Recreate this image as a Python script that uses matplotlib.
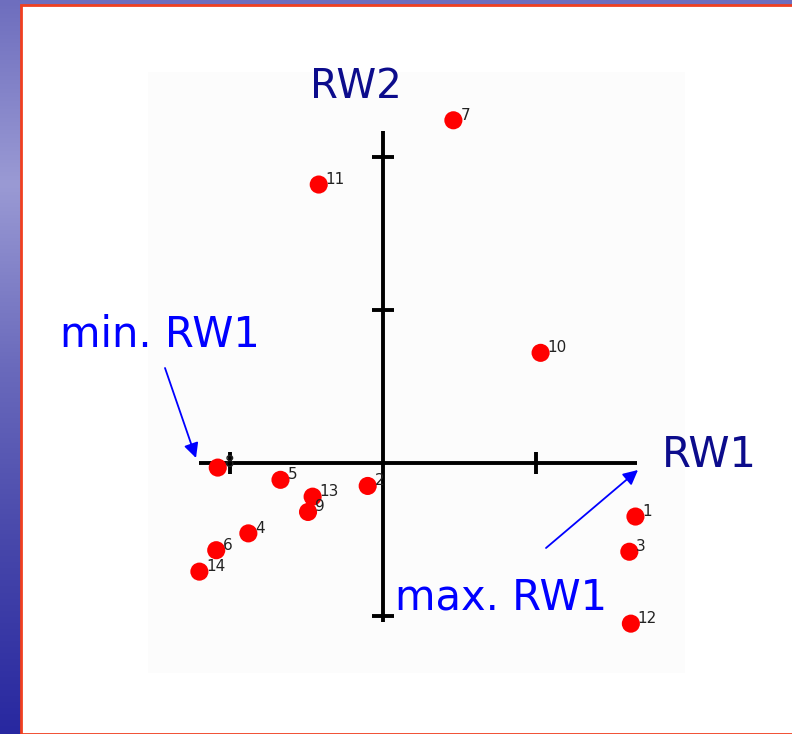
import numpy as np
import matplotlib.pyplot as plt
from matplotlib.patches import Rectangle

# case scores on the two relative-warp axes
labels = ['1', '2', '3', '4', '5', '6', '7', '8', '9', '10', '11', '12', '13', '14']
rw1 = [1.65, -0.10, 1.61, -0.88, -0.67, -1.09, 0.46, -1.08, -0.49, 1.03, -0.42, 1.62, -0.46, -1.20]
rw2 = [-0.35, -0.15, -0.58, -0.46, -0.11, -0.57, 2.24, -0.03, -0.32, 0.72, 1.82, -1.05, -0.22, -0.71]

x_ticks = [-1, 0, 1]
y_ticks = [-1, 1, 2]
x_axis_range = (-1.20, 1.66)
y_axis_range = (-1.04, 2.17)

W, H = 792, 734
fig = plt.figure(figsize=(W / 100, H / 100), dpi=100)


def fx(px):
    return px / W


def fy(py):
    return 1 - py / H


# slide background: blue gradient strip + white panel with red border
bg = fig.add_axes([0, 0, 1, 1])
grad = np.linspace(0, 1, 256).reshape(-1, 1)
cmap = plt.matplotlib.colors.LinearSegmentedColormap.from_list(
    'slide', ['#6e6ebe', '#9a9ad4', '#6a6abc', '#4646aa', '#2828a0'])
bg.imshow(grad, aspect='auto', cmap=cmap, extent=[0, 1, 0, 1], origin='upper')
bg.add_patch(Rectangle((fx(21), 0), 1, fy(5), facecolor='white',
                       edgecolor='#f04020', linewidth=2))
bg.set_xlim(0, 1)
bg.set_ylim(0, 1)
bg.axis('off')

# plot area (faint gray box), 153 px per unit, origin at (383, 463)
left, right, top, bottom = 148, 685, 72, 673
ox, oy, scale = 383, 463, 153
ax = fig.add_axes([fx(left), fy(bottom), (right - left) / W, (bottom - top) / H])
ax.set_facecolor('#fcfcfc')
ax.set_xlim((left - ox) / scale, (right - ox) / scale)
ax.set_ylim((oy - bottom) / scale, (oy - top) / scale)
for s in ax.spines.values():
    s.set_visible(False)
ax.set_xticks([])
ax.set_yticks([])

lw = 2.8
ax.plot(x_axis_range, [0, 0], color='black', lw=lw, solid_capstyle='butt', zorder=2)
ax.plot([0, 0], y_axis_range, color='black', lw=lw, solid_capstyle='butt', zorder=2)
tl = 0.07
for t in x_ticks:
    if t != 0:
        ax.plot([t, t], [-tl, tl], color='black', lw=lw, solid_capstyle='butt', zorder=2)
for t in y_ticks:
    ax.plot([-tl, tl], [t, t], color='black', lw=lw, solid_capstyle='butt', zorder=2)

ax.scatter(rw1, rw2, s=170, color='#ff0000', edgecolors='none', zorder=3)
for lab, x, y in zip(labels, rw1, rw2):
    ax.annotate(lab, (x, y), xytext=(5, 0.5), textcoords='offset points',
                fontsize=11, color='#222222', zorder=4)

# slide annotations
navy = '#0c0c8c'
blue = '#0000ff'
fig.text(fx(356), fy(98), 'RW2', color=navy, fontsize=29, ha='center', va='baseline')
fig.text(fx(709), fy(467), 'RW1', color=navy, fontsize=30, ha='center', va='baseline')
fig.text(fx(160), fy(347), 'min. RW1', color=blue, fontsize=30, ha='center', va='baseline')
fig.text(fx(501), fy(610), 'max. RW1', color=blue, fontsize=30, ha='center', va='baseline')

arrow = dict(arrowstyle='-|>', color=blue, lw=1.3, mutation_scale=22, shrinkA=0, shrinkB=0)
ax.annotate('', xy=(fx(196), fy(458)), xytext=(fx(165), fy(368)),
            xycoords='figure fraction', textcoords='figure fraction',
            arrowprops=arrow, annotation_clip=False, zorder=5)
ax.annotate('', xy=(fx(638), fy(470)), xytext=(fx(546), fy(548)),
            xycoords='figure fraction', textcoords='figure fraction',
            arrowprops=arrow, annotation_clip=False, zorder=5)

fig.savefig('out.png', dpi=100)
